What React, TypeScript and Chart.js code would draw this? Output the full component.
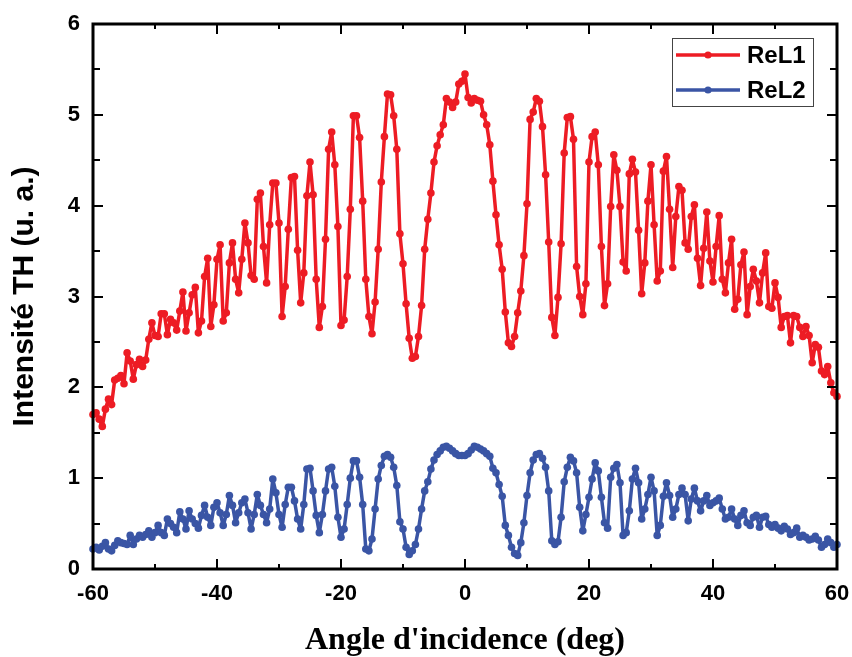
import React, { useEffect, useRef } from 'react';
import { Chart, registerables } from 'chart.js';

Chart.register(...registerables);

// Angle grid (deg): first angle and spacing of the measured points
const ANGLE_MIN = -60;
const ANGLE_STEP = 0.5;

// ReL1 intensity (u. a.), from -60 to 60 deg
const reL1: number[] = [
  1.70, 1.72, 1.65, 1.57, 1.76, 1.87, 1.81, 2.08, 2.10, 2.13,
  2.04, 2.38, 2.29, 2.09, 2.25, 2.31, 2.23, 2.30, 2.53, 2.71,
  2.57, 2.56, 2.81, 2.81, 2.58, 2.75, 2.71, 2.63, 2.84, 3.05,
  2.62, 2.82, 3.02, 3.10, 2.60, 2.73, 3.22, 3.42, 2.67, 2.91,
  3.41, 3.57, 2.73, 2.82, 3.37, 3.59, 3.19, 3.04, 3.41, 3.81,
  3.59, 3.23, 3.19, 4.07, 4.14, 3.55, 3.15, 3.79, 4.25, 4.25,
  3.81, 2.78, 3.11, 3.74, 4.31, 4.32, 3.51, 2.93, 3.26, 4.11,
  4.48, 4.12, 3.19, 2.66, 2.89, 3.63, 4.62, 4.81, 4.45, 3.77,
  2.68, 2.74, 3.22, 3.96, 4.99, 4.99, 4.75, 4.05, 3.19, 2.78,
  2.59, 2.94, 3.52, 4.26, 4.76, 5.23, 5.22, 4.99, 4.62, 3.69,
  3.36, 2.92, 2.54, 2.32, 2.34, 2.56, 2.90, 3.52, 3.85, 4.14,
  4.48, 4.66, 4.78, 4.89, 5.18, 5.14, 5.08, 5.14, 5.34, 5.37,
  5.45, 5.19, 5.13, 5.18, 5.16, 5.15, 5.00, 4.89, 4.67, 4.27,
  3.90, 3.57, 3.30, 2.83, 2.49, 2.45, 2.56, 2.82, 3.06, 3.45,
  4.02, 4.95, 5.03, 5.18, 5.15, 4.87, 4.34, 3.60, 2.77, 2.57,
  2.99, 3.58, 4.58, 4.97, 4.98, 4.73, 3.33, 3.00, 2.80, 3.14,
  4.48, 4.76, 4.81, 4.45, 3.55, 2.90, 3.14, 3.99, 4.56, 4.39,
  3.99, 3.38, 3.28, 4.35, 4.51, 4.37, 3.73, 3.03, 3.37, 4.05,
  4.45, 3.79, 3.17, 3.28, 4.38, 4.54, 3.96, 3.32, 3.88, 4.21,
  4.17, 3.59, 3.52, 3.88, 4.01, 3.42, 3.12, 3.53, 3.93, 3.39,
  3.16, 3.55, 3.89, 3.19, 3.04, 3.37, 3.63, 2.86, 2.97, 3.35,
  3.49, 2.80, 3.11, 3.30, 3.17, 2.93, 3.26, 3.48, 2.89, 2.87,
  3.15, 2.99, 2.66, 2.78, 2.79, 2.49, 2.79, 2.78, 2.66, 2.56,
  2.67, 2.57, 2.27, 2.47, 2.44, 2.18, 2.14, 2.23, 2.05, 1.94,
  1.90,
];

// ReL2 intensity (u. a.), from -60 to 60 deg
const reL2: number[] = [
  0.22, 0.24, 0.21, 0.25, 0.29, 0.22, 0.20, 0.26, 0.31, 0.29,
  0.28, 0.27, 0.37, 0.27, 0.33, 0.37, 0.35, 0.38, 0.42, 0.35,
  0.40, 0.48, 0.40, 0.37, 0.55, 0.50, 0.46, 0.40, 0.63, 0.55,
  0.44, 0.64, 0.55, 0.50, 0.45, 0.59, 0.70, 0.57, 0.48, 0.68,
  0.73, 0.62, 0.48, 0.60, 0.81, 0.70, 0.51, 0.62, 0.73, 0.77,
  0.62, 0.44, 0.60, 0.82, 0.70, 0.60, 0.51, 0.66, 0.99, 0.84,
  0.60, 0.46, 0.71, 0.90, 0.90, 0.75, 0.55, 0.44, 0.71, 1.10,
  1.11, 0.86, 0.59, 0.40, 0.60, 0.86, 1.10, 1.12, 0.91, 0.57,
  0.35, 0.44, 0.71, 1.00, 1.19, 1.19, 1.01, 0.71, 0.22, 0.20,
  0.33, 0.66, 0.99, 1.14, 1.24, 1.26, 1.23, 1.12, 0.92, 0.52,
  0.44, 0.24, 0.16, 0.20, 0.27, 0.44, 0.66, 0.86, 0.96, 1.10,
  1.20, 1.26, 1.30, 1.34, 1.35, 1.33, 1.30, 1.27, 1.25, 1.25,
  1.25, 1.27, 1.31, 1.35, 1.34, 1.32, 1.30, 1.27, 1.24, 1.11,
  1.06, 0.93, 0.80, 0.48, 0.37, 0.24, 0.17, 0.15, 0.29, 0.51,
  0.81, 1.06, 1.20, 1.26, 1.27, 1.22, 1.12, 0.86, 0.31, 0.27,
  0.30, 0.57, 0.96, 1.12, 1.23, 1.19, 1.06, 0.68, 0.42, 0.60,
  0.79, 0.99, 1.17, 1.08, 0.79, 0.51, 0.45, 1.01, 1.11, 1.15,
  0.95, 0.37, 0.40, 0.64, 0.99, 1.11, 0.95, 0.55, 0.66, 0.82,
  1.01, 0.86, 0.37, 0.48, 0.80, 0.95, 0.81, 0.57, 0.66, 0.82,
  0.89, 0.82, 0.53, 0.77, 0.89, 0.75, 0.64, 0.75, 0.81, 0.70,
  0.73, 0.75, 0.78, 0.66, 0.55, 0.57, 0.66, 0.55, 0.48, 0.59,
  0.64, 0.51, 0.48, 0.57, 0.59, 0.46, 0.57, 0.58, 0.49, 0.46,
  0.49, 0.45, 0.42, 0.47, 0.44, 0.38, 0.40, 0.45, 0.35, 0.37,
  0.35, 0.32, 0.33, 0.36, 0.32, 0.24, 0.27, 0.33, 0.29, 0.24,
  0.27,
];

const seriesNames = ['ReL1', 'ReL2'];
const seriesColors = ['#ED1C24', '#3A55A5'];

const X_MIN = -60;
const X_MAX = 60;
const X_LABEL_STEP = 20;
const X_MINOR_STEP = 10;
const Y_MIN = 0;
const Y_MAX = 6;
const Y_LABEL_STEP = 1;
const Y_MINOR_STEP = 0.5;

const xTitle = "Angle d'incidence (deg)";
const yTitle = 'Intensité TH (u. a.)';

const SANS = "'Liberation Sans', Arial, sans-serif";
const SERIF = "'Liberation Serif', 'Times New Roman', serif";

const framePlugin = {
  id: 'frameTicks',
  afterDatasetsDraw(chart: any) {
    const { ctx, chartArea, scales } = chart;
    const { left, right, top, bottom } = chartArea;
    const xs = scales.x;
    const ys = scales.y;
    ctx.save();
    ctx.strokeStyle = '#000';
    ctx.lineWidth = 2;
    ctx.lineCap = 'butt';
    for (let v = X_MIN; v <= X_MAX + 1e-9; v += X_MINOR_STEP) {
      const px = Math.round(xs.getPixelForValue(v));
      const major = Math.abs(v % X_LABEL_STEP) < 1e-9;
      const len = major ? 10 : 5;
      ctx.beginPath();
      ctx.moveTo(px, bottom);
      ctx.lineTo(px, bottom - len);
      ctx.moveTo(px, top);
      ctx.lineTo(px, top + len);
      ctx.stroke();
    }
    for (let v = Y_MIN; v <= Y_MAX + 1e-9; v += Y_MINOR_STEP) {
      const py = Math.round(ys.getPixelForValue(v));
      const major = Math.abs(v % Y_LABEL_STEP) < 1e-9;
      const len = major ? 10 : 7;
      ctx.beginPath();
      ctx.moveTo(left, py);
      ctx.lineTo(left + len, py);
      ctx.moveTo(right, py);
      ctx.lineTo(right - len, py);
      ctx.stroke();
    }
    ctx.lineWidth = 3;
    ctx.strokeRect(left, top, right - left, bottom - top);
    ctx.restore();
  },
  afterDraw(chart: any) {
    const { ctx } = chart;
    ctx.save();
    const bx = 672, by = 38, bw = 141, bh = 68;
    ctx.fillStyle = '#fff';
    ctx.fillRect(bx, by, bw, bh);
    ctx.strokeStyle = '#444';
    ctx.lineWidth = 1;
    ctx.strokeRect(bx + 0.5, by + 0.5, bw, bh);
    seriesNames.forEach((name, i) => {
      const y = 55 + i * 35;
      ctx.strokeStyle = seriesColors[i];
      ctx.lineWidth = 3.5;
      ctx.beginPath();
      ctx.moveTo(676, y);
      ctx.lineTo(740, y);
      ctx.stroke();
      ctx.fillStyle = seriesColors[i];
      ctx.beginPath();
      ctx.arc(708, y, 3.6, 0, Math.PI * 2);
      ctx.fill();
      ctx.fillStyle = '#000';
      ctx.font = `bold 24px ${SANS}`;
      ctx.textBaseline = 'middle';
      ctx.textAlign = 'left';
      ctx.fillText(name, 747, y + 1);
    });
    ctx.restore();
  },
};

export default function App() {
  const canvasRef = useRef<HTMLCanvasElement | null>(null);

  useEffect(() => {
    const canvas = canvasRef.current;
    if (!canvas) return;
    const angles = reL1.map((_, i) => ANGLE_MIN + i * ANGLE_STEP);
    const series = [reL1, reL2];
    const chart = new Chart(canvas, {
      type: 'line',
      data: {
        datasets: series.map((vals, i) => ({
          label: seriesNames[i],
          data: vals.map((v, j) => ({ x: angles[j], y: v })),
          borderColor: seriesColors[i],
          backgroundColor: seriesColors[i],
          borderWidth: 3.5,
          borderJoinStyle: 'round' as const,
          borderCapStyle: 'round' as const,
          pointRadius: 3.8,
          pointBorderWidth: 0,
          pointBackgroundColor: seriesColors[i],
          tension: 0,
          clip: false as any,
        })),
      },
      options: {
        animation: false,
        responsive: false,
        devicePixelRatio: 1,
        layout: { padding: { top: 24, right: 15, left: 0, bottom: 0 } },
        plugins: {
          legend: { display: false },
          tooltip: { enabled: false },
        },
        scales: {
          x: {
            type: 'linear',
            min: X_MIN,
            max: X_MAX,
            grid: { display: false, drawTicks: false },
            border: { display: false },
            ticks: {
              stepSize: X_LABEL_STEP,
              color: '#000',
              font: { family: SANS, size: 22, weight: 'bold' },
              padding: 12,
              maxRotation: 0,
            },
            title: {
              display: true,
              text: xTitle,
              color: '#000',
              font: { family: SERIF, size: 32, weight: 'bold', lineHeight: 1 },
              padding: { top: 0, bottom: 0 },
            },
            afterFit(scale: any) {
              scale.height = 88;
              scale.paddingLeft = 0;
              scale.paddingRight = 0;
            },
          },
          y: {
            min: Y_MIN,
            max: Y_MAX,
            grid: { display: false, drawTicks: false },
            border: { display: false },
            ticks: {
              stepSize: Y_LABEL_STEP,
              color: '#000',
              font: { family: SANS, size: 22, weight: 'bold' },
              padding: 13,
            },
            title: {
              display: true,
              text: yTitle,
              color: '#000',
              font: { family: SANS, size: 30, weight: 'bold', lineHeight: 1.2 },
              padding: { top: 7, bottom: 0 },
            },
            afterFit(scale: any) {
              scale.width = 93;
              scale.paddingTop = 0;
              scale.paddingBottom = 0;
            },
          },
        },
      },
      plugins: [framePlugin],
    });
    return () => chart.destroy();
  }, []);

  return (
    <div style={{ position: 'fixed', left: 0, top: 0, width: 852, height: 657, background: '#fff' }}>
      <canvas ref={canvasRef} width={852} height={657} style={{ display: 'block', width: 852, height: 657 }} />
    </div>
  );
}
